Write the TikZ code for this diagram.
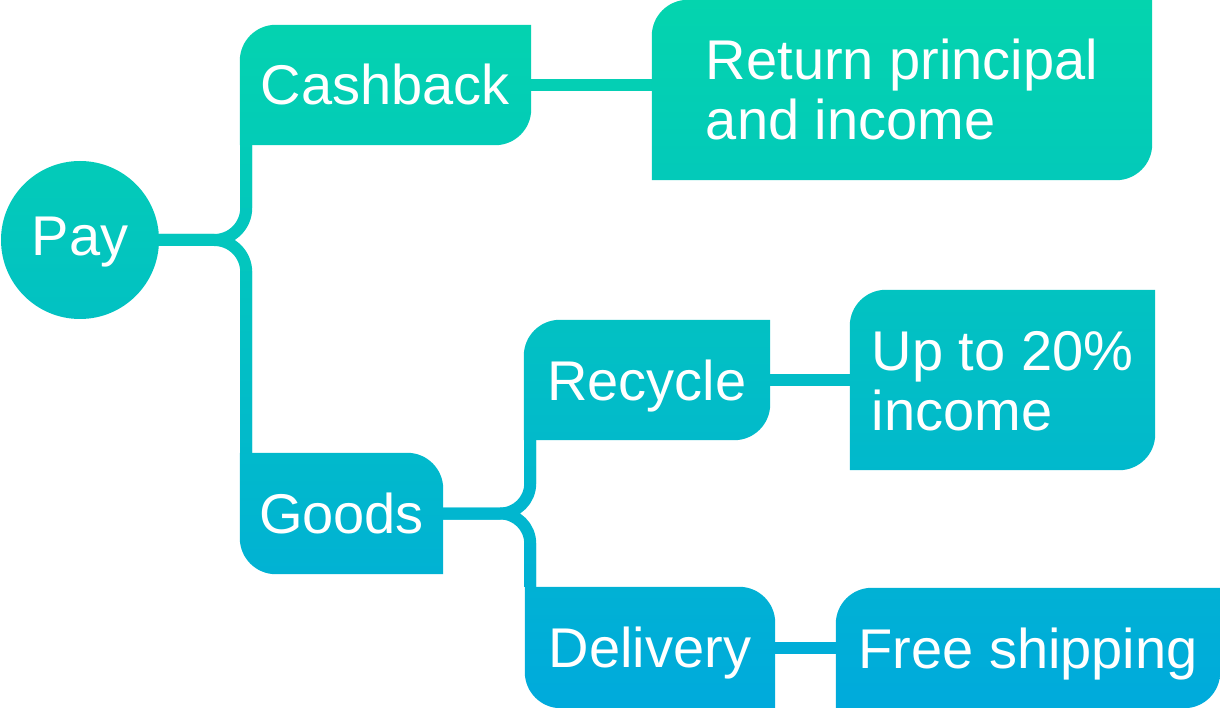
\documentclass[tikz,border=0pt]{standalone}
\usepackage{fontspec}
\setmainfont{Liberation Sans}
\usetikzlibrary{backgrounds,calc}
\definecolor{ctop}{RGB}{4,212,174}
\definecolor{cbot}{RGB}{0,170,220}
\newcommand\crad{36pt}
% box with top-left and bottom-right corners rounded
\newcommand\leafshape[3]{%
  \shade[top color=cbot!#2!ctop,bottom color=cbot!#3!ctop]
   (#1.south west) -- ([yshift=-\crad]#1.north west)
   arc[start angle=180,end angle=90,radius=\crad]
   -- (#1.north east) -- ([yshift=\crad]#1.south east)
   arc[start angle=0,end angle=-90,radius=\crad] -- cycle;}
% box with top-right and bottom-left corners rounded
\newcommand\tabshape[3]{%
  \shade[top color=cbot!#2!ctop,bottom color=cbot!#3!ctop]
   (#1.north west) -- ([xshift=-\crad]#1.north east)
   arc[start angle=90,end angle=0,radius=\crad]
   -- (#1.south east) -- ([xshift=\crad]#1.south west)
   arc[start angle=270,end angle=180,radius=\crad] -- cycle;}
\tikzset{
  lbl/.style={text=white, inner sep=0pt, font=\fontsize{56}{60}\selectfont,
              text height=40pt, text depth=0pt},
  two/.style={align=left, text height=100pt},
  conn/.style={line width=12pt, draw=cbot!#1!ctop},
}
\begin{document}
\begin{tikzpicture}[x=1pt,y=1pt]
\useasboundingbox (0,0) rectangle (1220,-708);

\node[lbl, circle, minimum size=158pt, top color=cbot!22!ctop,
      bottom color=cbot!45!ctop, text depth=8pt] (pay) at (80,-240) {Pay};
\node[lbl, minimum width=291pt, minimum height=120pt] (cash) at (385.5,-85) {Cashback};
\node[lbl, two, minimum width=500pt, minimum height=180pt] (ret) at (902,-90) {Return principal\\and income};
\node[lbl, minimum width=203pt, minimum height=121pt] (goods) at (341.5,-513.5) {Goods};
\node[lbl, minimum width=246pt, minimum height=120pt] (rec) at (647,-380) {Recycle};
\node[lbl, two, minimum width=305pt, minimum height=180pt] (up) at (1002.5,-380) {Up to 20\%\\income};
\node[lbl, minimum width=250pt, minimum height=121pt] (del) at (650,-647.5) {Delivery};
\node[lbl, minimum width=384pt, minimum height=120pt] (free) at (1028,-648) {Free shipping};

\coordinate (j1) at ($(pay.east)+(87,0)$);
\coordinate (j2) at ($(goods.east)+(87,0)$);

\begin{scope}[on background layer]
  % connectors
  \draw[conn=12] (cash.east) -- (cash.east -| ret.west);
  \draw[conn=54] (rec.east) -- (up.west);
  \draw[conn=92] (del.east) -- (del.east -| free.west);
  \draw[conn=34] (pay.east) -- ($(j1)+(-32,0)$)
        arc[start angle=-90,end angle=0,radius=32pt] -- (j1 |- cash.south);
  \draw[conn=34] (pay.east) -- ($(j1)+(-32,0)$)
        arc[start angle=90,end angle=0,radius=32pt] -- (j1 |- goods.north);
  \draw[conn=72] (goods.east) -- ($(j2)+(-30,0)$)
        arc[start angle=-90,end angle=0,radius=30pt] -- (j2 |- rec.south);
  \draw[conn=72] (goods.east) -- ($(j2)+(-30,0)$)
        arc[start angle=90,end angle=0,radius=30pt] -- (j2 |- del.north);
  % gradient on the vertical parts
  \shade[top color=cbot!20!ctop, bottom color=cbot!29!ctop]
    ($(j1 |- cash.south)+(-6,0)$) rectangle ($(j1)+(6,32)$);
  \shade[top color=cbot!38!ctop, bottom color=cbot!64!ctop]
    ($(j1)+(-6,-32)$) rectangle ($(j1 |- goods.north)+(6,0)$);
  \shade[top color=cbot!62!ctop, bottom color=cbot!68!ctop]
    ($(j2 |- rec.south)+(-6,0)$) rectangle ($(j2)+(6,30)$);
  \shade[top color=cbot!77!ctop, bottom color=cbot!83!ctop]
    ($(j2)+(-6,-30)$) rectangle ($(j2 |- del.north)+(6,0)$);
  % boxes
  \leafshape{cash}{4}{20}
  \leafshape{ret}{0}{25}
  \leafshape{rec}{45}{62}
  \leafshape{up}{41}{66}
  \leafshape{free}{83}{100}
  \tabshape{goods}{64}{81}
  \tabshape{del}{83}{100}
\end{scope}
\end{tikzpicture}
\end{document}
